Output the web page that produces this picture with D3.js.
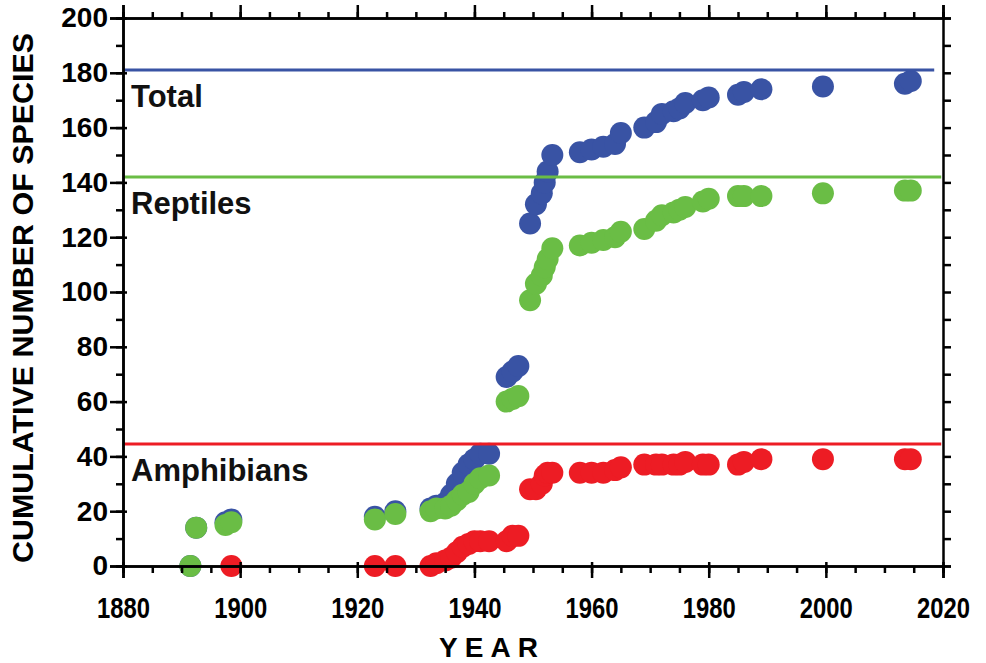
<!DOCTYPE html>
<html>
<head>
<meta charset="utf-8">
<script src="https://cdn.jsdelivr.net/npm/d3@7"></script>
<style>
    body { margin: 0; background: #fff; }
    svg { display: block; font-family: "Liberation Sans", Arial, sans-serif; }
</style>
</head>
<body>
<div id="chart"></div>
<script>
// Cumulative number of species, [year, count]
let total = [
    [1891.5, 0], [1892.5, 14], [1897.5, 16], [1898.5, 17], [1923, 18], [1926.5, 20],
    [1932.5, 21], [1933.5, 22], [1935, 23], [1936, 26], [1937, 30], [1938, 34], [1939, 37],
    [1940, 39], [1941, 41], [1942.5, 41], [1945.5, 69], [1946.5, 71], [1947.5, 73],
    [1949.5, 125], [1950.5, 132], [1951.5, 136], [1952, 140], [1952.5, 144], [1953.3, 150],
    [1958, 151], [1960, 152], [1962, 153], [1964, 154], [1965, 158], [1969, 160], [1971, 162],
    [1972, 165], [1974, 166], [1975, 167], [1976, 169], [1979, 170], [1980, 171], [1985, 172],
    [1986, 173], [1989, 174], [1999.5, 175], [2013.5, 176], [2014.5, 177]
];

let reptiles = [
    [1891.5, 0], [1892.5, 14], [1897.5, 15], [1898.5, 16], [1923, 17], [1926.5, 19],
    [1932.5, 20], [1933.5, 21], [1935, 21], [1936, 22], [1937, 24], [1938, 26], [1939, 27],
    [1940, 30], [1941, 32], [1942.5, 33], [1945.5, 60], [1946.5, 61], [1947.5, 62],
    [1949.5, 97], [1950.5, 103], [1951.5, 106], [1952, 109], [1952.5, 112], [1953.3, 116],
    [1958, 117], [1960, 118], [1962, 119], [1964, 120], [1965, 122], [1969, 123], [1971, 126],
    [1972, 128], [1974, 129], [1975, 130], [1976, 131], [1979, 133], [1980, 134], [1985, 135],
    [1986, 135], [1989, 135], [1999.5, 136], [2013.5, 137], [2014.5, 137]
];

let amphibians = [
    [1898.5, 0], [1923, 0], [1926.5, 0], [1932.5, 0], [1933.5, 1], [1935, 2], [1936, 3],
    [1937, 5], [1938, 7], [1939, 8], [1940, 9], [1941, 9], [1942.5, 9], [1945.5, 9],
    [1946.5, 11], [1947.5, 11], [1949.5, 28], [1950.5, 28], [1951.5, 30], [1952, 33],
    [1952.5, 34], [1953.3, 34], [1958, 34], [1960, 34], [1962, 34], [1964, 35], [1965, 36],
    [1969, 37], [1971, 37], [1972, 37], [1974, 37], [1975, 37], [1976, 38], [1979, 37],
    [1980, 37], [1985, 37], [1986, 38], [1989, 39], [1999.5, 39], [2013.5, 39], [2014.5, 39]
];

// Known species totals (horizontal lines)
let seriesNames = ['Total', 'Reptiles', 'Amphibians'];
let knownTotals = [181, 142, 44.5];
let lineEnds = [2018.5, 2019.7, 2019.7];
let colors = ['#3953a4', '#6abd45', '#ed1c24'];

let xTicks = [1880, 1900, 1920, 1940, 1960, 1980, 2000, 2020];
let yTicks = [0, 20, 40, 60, 80, 100, 120, 140, 160, 180, 200];

const width = 986, height = 663;
const margin = {top: 18, right: 43, bottom: 97, left: 123};
const innerW = width - margin.left - margin.right,
      innerH = height - margin.top - margin.bottom;

let svg = d3.select('#chart').append('svg')
    .attr('width', width)
    .attr('height', height);

let g = svg.append('g').attr('transform', `translate(${margin.left},${margin.top})`);

let x = d3.scaleLinear().domain([1880, 2020]).range([0, innerW]);
let y = d3.scaleLinear().domain([0, 200]).range([innerH, 0]);

// Points: blue first, then green, red on top.
[total, reptiles, amphibians].forEach((series, i) => {
    g.append('g').selectAll('circle')
        .data(series)
      .enter().append('circle')
        .attr('cx', d => x(d[0]))
        .attr('cy', d => y(d[1]))
        .attr('r', 11)
        .attr('fill', colors[i]);
});

// Horizontal known-total lines and labels.
knownTotals.forEach((v, i) => {
    g.append('line')
        .attr('x1', x(1880)).attr('x2', x(lineEnds[i]))
        .attr('y1', y(v)).attr('y2', y(v))
        .attr('stroke', colors[i])
        .attr('stroke-width', 3);
    g.append('text')
        .attr('x', 8)
        .attr('y', y(v) + 37)
        .attr('font-size', 31)
        .attr('font-weight', 'bold')
        .attr('fill', '#111')
        .text(seriesNames[i]);
});

// Axes.
let styleAxis = (sel) => {
    sel.select('.domain').attr('stroke', '#000').attr('stroke-width', 2.5);
    sel.selectAll('.tick line').attr('stroke', '#000').attr('stroke-width', 2.5);
    sel.selectAll('text').attr('fill', '#000').attr('font-weight', 'bold').attr('font-family', '"Liberation Sans", Arial, sans-serif');
};

// minor ticks
g.append('g').attr('transform', `translate(0,${innerH})`)
    .call(d3.axisBottom(x).tickValues(d3.range(1880, 2021, 5)).tickSize(7).tickFormat(''))
    .call(styleAxis);
g.append('g')
    .call(d3.axisTop(x).tickValues(d3.range(1880, 2021, 5)).tickSize(6).tickFormat(''))
    .call(styleAxis);
g.append('g')
    .call(d3.axisLeft(y).tickValues(d3.range(0, 201, 10)).tickSize(7).tickFormat(''))
    .call(styleAxis);
g.append('g').attr('transform', `translate(${innerW},0)`)
    .call(d3.axisRight(y).tickValues(d3.range(0, 201, 10)).tickSize(8).tickFormat(''))
    .call(styleAxis);

// major ticks with labels
let xAxis = g.append('g').attr('transform', `translate(0,${innerH})`)
    .call(d3.axisBottom(x).tickValues(xTicks).tickSize(12).tickPadding(19).tickFormat(d3.format('d')))
    .call(styleAxis);
xAxis.selectAll('.tick line').attr('y1', -4);
xAxis.selectAll('text').attr('font-size', 30).attr('textLength', 53).attr('lengthAdjust', 'spacingAndGlyphs');

g.append('g')
    .call(d3.axisTop(x).tickValues(xTicks).tickSize(13).tickFormat(''))
    .call(styleAxis);

let yAxis = g.append('g')
    .call(d3.axisLeft(y).tickValues(yTicks).tickSize(13).tickPadding(2))
    .call(styleAxis);
yAxis.selectAll('.tick line').attr('x1', 4);
yAxis.selectAll('text').attr('font-size', 28);

// Axis titles.
svg.append('text')
    .attr('x', margin.left + x(1943))
    .attr('y', 657)
    .attr('text-anchor', 'middle')
    .attr('font-size', 28)
    .attr('font-weight', 'bold')
    .attr('letter-spacing', 7)
    .text('YEAR');

svg.append('text')
    .attr('transform', `translate(33,${margin.top + innerH / 2 + 6}) rotate(-90)`)
    .attr('text-anchor', 'middle')
    .attr('font-size', 30)
    .attr('font-weight', 'bold')
    .attr('textLength', 530)
    .attr('lengthAdjust', 'spacingAndGlyphs')
    .text('CUMULATIVE NUMBER OF SPECIES');
</script>
</body>
</html>
